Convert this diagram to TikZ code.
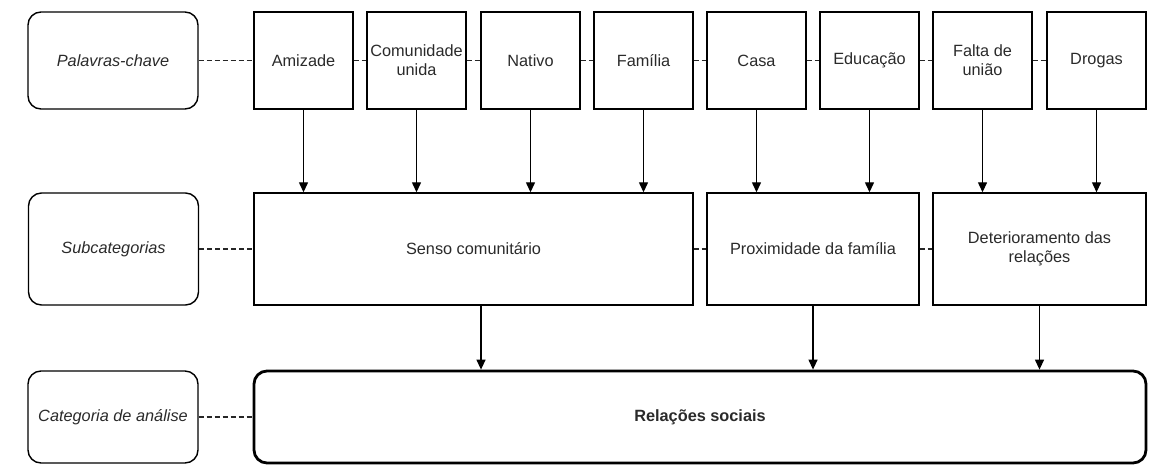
\documentclass[tikz,border=0pt]{standalone}
\usepackage{fontspec}
\setmainfont{Liberation Sans}
\usetikzlibrary{arrows.meta}
\definecolor{txt}{HTML}{2A2A2A}
\tikzset{
  box/.style={draw, line width=1.4pt, rectangle, inner sep=1pt, align=center,
    text=txt, font=\fontsize{16.3}{19}\selectfont},
  kw/.style={box, minimum width=99pt, minimum height=97pt},
  sub/.style={box, minimum height=112pt},
  lab/.style={box, rounded corners=13pt, minimum width=170pt,
    font=\fontsize{16.3}{19}\selectfont\itshape},
  cat/.style={box, rounded corners=13pt, line width=2.8pt, minimum width=892pt, minimum height=92pt,
    font=\fontsize{16.3}{19}\selectfont\bfseries},
  dashlink/.style={dash pattern=on 5pt off 3pt, line width=1.4pt, draw=black!85},
  arr/.style={line width=1.3pt, -{Triangle[length=10pt,width=9pt]}}
}
\begin{document}
\begin{tikzpicture}[x=1pt,y=-1pt]
\useasboundingbox (0,0) rectangle (1150,466);
% label boxes
\node[lab, minimum height=97pt] (lp) at (113,60.5) {Palavras-chave};
\node[lab, minimum height=112pt] (ls) at (113.5,249) {Subcategorias};
\node[lab, minimum height=92pt] (lc) at (113,417) {Categoria de análise};
% keyword boxes
\node[kw] (k1) at (303.5,60.5) {Amizade};
\node[kw] (k2) at (416.5,60.5) {Comunidade\\unida};
\node[kw] (k3) at (530.5,60.5) {Nativo};
\node[kw] (k4) at (643.5,60.5) {Família};
\node[kw] (k5) at (756.5,60.5) {Casa};
\node[kw] (k6) at (869.5,60.5) {Educação};
\node[kw] (k7) at (982.5,60.5) {Falta de\\união};
\node[kw] (k8) at (1096.5,60.5) {Drogas};
% subcategories
\node[sub, minimum width=439pt] (s1) at (473.5,249) {Senso comunitário};
\node[sub, minimum width=212pt] (s2) at (813,249) {Proximidade da família};
\node[sub, minimum width=213pt] (s3) at (1039.5,249) {Deterioramento das\\relações};
% category
\node[cat] (c1) at (700,417) {Relações sociais};
% dashed links
\draw[dashlink] (lp.east) -- (k1.west);
\draw[dashlink] (k1.east) -- (k2.west);
\draw[dashlink] (k2.east) -- (k3.west);
\draw[dashlink] (k3.east) -- (k4.west);
\draw[dashlink] (k4.east) -- (k5.west);
\draw[dashlink] (k5.east) -- (k6.west);
\draw[dashlink] (k6.east) -- (k7.west);
\draw[dashlink] (k7.east) -- (k8.west);
\draw[dashlink] (ls.east) -- (s1.west);
\draw[dashlink] (s1.east) -- (s2.west);
\draw[dashlink] (s2.east) -- (s3.west);
\draw[dashlink] (lc.east) -- (c1.west);
% arrows keyword -> subcategory
\draw[arr] (k1.south) -- (k1.south |- s1.north);
\draw[arr] (k2.south) -- (k2.south |- s1.north);
\draw[arr] (k3.south) -- (k3.south |- s1.north);
\draw[arr] (k4.south) -- (k4.south |- s1.north);
\draw[arr] (k5.south) -- (k5.south |- s2.north);
\draw[arr] (k6.south) -- (k6.south |- s2.north);
\draw[arr] (k7.south) -- (k7.south |- s3.north);
\draw[arr] (k8.south) -- (k8.south |- s3.north);
% arrows subcategory -> category
\draw[arr] ([xshift=7.5pt]s1.south) -- ([xshift=7.5pt]s1.south |- c1.north);
\draw[arr] (s2.south) -- (s2.south |- c1.north);
\draw[arr] (s3.south) -- (s3.south |- c1.north);
\end{tikzpicture}
\end{document}
